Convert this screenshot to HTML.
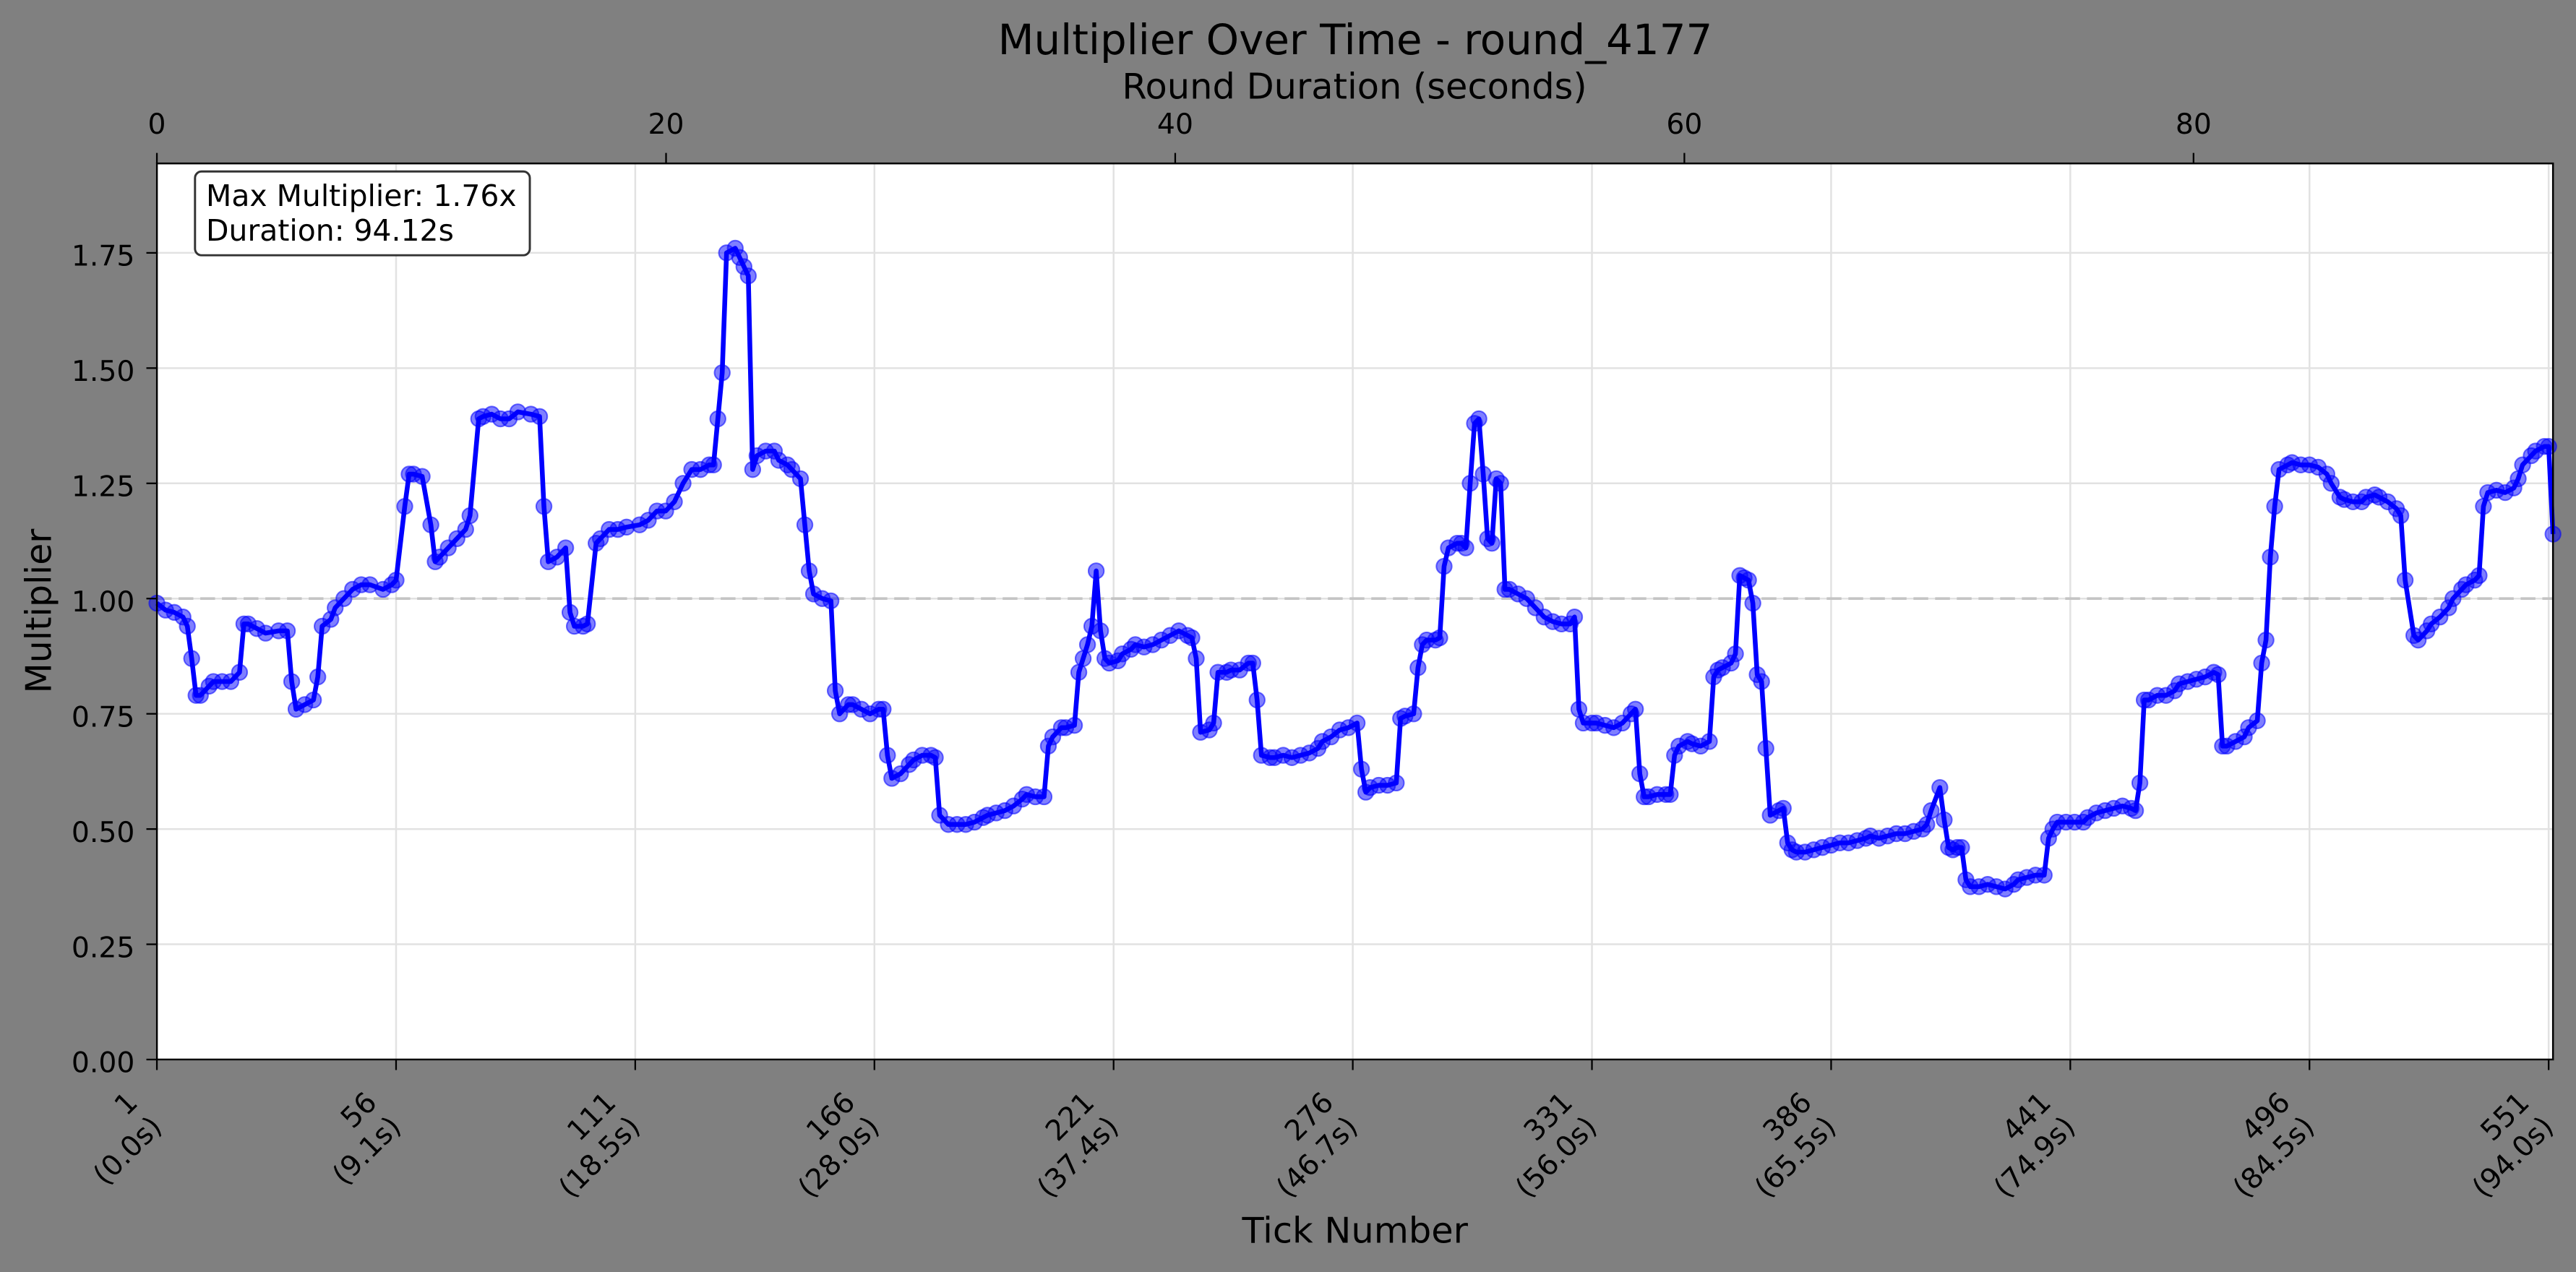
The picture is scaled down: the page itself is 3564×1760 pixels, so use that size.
<!DOCTYPE html>
<html><head><meta charset="utf-8"><title>Multiplier Over Time - round_4177</title>
<style>
html,body{margin:0;padding:0;background:#808080;}
svg{display:block;}
text{font-family:"DejaVu Sans","Liberation Sans",sans-serif;fill:#000;}
</style></head>
<body>
<svg id="chart" width="3564" height="1760" viewBox="0 0 1568 774.35" preserveAspectRatio="none" xmlns="http://www.w3.org/2000/svg">
  <rect x="0" y="0" width="1568" height="774.35" fill="#808080"/>
  <rect x="95.5" y="99.5" width="1458.5" height="545.5" fill="#ffffff"/>
  <g id="grid"></g>
  <g id="refline"></g>
  <g id="markers"></g>
  <g id="series"></g>
  <g id="axes"></g>
  <g>
    <rect x="118.7" y="104.4" width="203.8" height="51" rx="4" ry="4" fill="#ffffff" stroke="#333333" stroke-width="1.3"/>
    <text x="125.4" y="125.4" font-size="18">Max Multiplier: 1.76x</text>
    <text x="125.4" y="146.6" font-size="18">Duration: 94.12s</text>
  </g>
  <text x="824.9" y="33" font-size="25.5" text-anchor="middle" textLength="435" lengthAdjust="spacingAndGlyphs">Multiplier Over Time - round_4177</text>
  <text x="824.5" y="60" font-size="21.5" text-anchor="middle" textLength="283" lengthAdjust="spacingAndGlyphs">Round Duration (seconds)</text>
  <text x="824.8" y="756.5" font-size="21.5" text-anchor="middle" textLength="137.5" lengthAdjust="spacingAndGlyphs">Tick Number</text>
  <text x="0" y="0" font-size="21.5" text-anchor="middle" transform="translate(31,372) rotate(-90)">Multiplier</text>
</svg>
<script>
const ticks = [1,3,5,7,8,9,10,11,13,14,16,18,20,21,22,24,26,29,31,32,33,35,37,38,39,41,42,44,46,48,50,53,55,56,58,59,60,62,64,65,66,68,70,72,73,75,76,78,80,82,84,87,89,90,91,93,95,96,97,99,100,102,103,105,107,109,112,114,116,118,120,122,124,126,128,129,130,131,132,134,135,136,137,138,139,141,143,144,146,147,149,150,151,152,154,156,157,158,160,161,163,165,167,168,169,170,172,174,175,177,179,180,181,183,185,187,189,191,192,194,196,198,200,201,203,205,206,207,209,210,212,213,214,215,216,217,218,219,220,222,223,225,226,228,230,232,234,236,238,239,240,241,243,244,245,247,248,250,252,253,254,255,257,258,260,262,264,266,268,269,271,273,275,277,278,279,280,282,284,286,287,288,290,291,292,293,295,296,297,298,300,301,302,303,304,305,306,307,308,309,310,311,312,314,316,318,320,322,324,326,327,328,329,331,332,334,336,338,340,341,342,343,344,346,348,349,350,351,353,354,356,358,359,360,361,363,364,365,366,367,368,369,370,371,372,374,375,376,377,378,380,382,384,386,388,390,392,394,395,397,399,401,403,405,407,408,409,411,412,413,414,415,416,417,418,420,422,424,426,428,429,431,433,435,436,437,438,440,442,444,445,447,449,451,453,455,456,457,458,459,461,463,465,466,468,470,472,474,475,476,477,479,481,482,484,485,486,487,488,489,491,492,494,496,498,500,501,503,504,506,508,509,511,512,514,516,517,518,520,521,523,524,526,528,529,531,532,534,535,536,537,539,541,543,544,545,547,548,550,551,552];
const multipliers = [.99,.975,.97,.96,.94,.87,.79,.79,.81,.82,.82,.82,.84,.945,.945,.935,.925,.93,.93,.82,.76,.77,.78,.83,.94,.955,.98,1.0,1.02,1.03,1.03,1.02,1.03,1.04,1.2,1.27,1.27,1.265,1.16,1.08,1.09,1.11,1.13,1.15,1.18,1.39,1.395,1.4,1.39,1.39,1.405,1.4,1.395,1.2,1.08,1.09,1.11,.97,.94,.94,.945,1.12,1.13,1.15,1.15,1.155,1.16,1.17,1.19,1.19,1.21,1.25,1.28,1.28,1.29,1.29,1.39,1.49,1.75,1.76,1.74,1.72,1.7,1.28,1.31,1.32,1.32,1.3,1.29,1.28,1.26,1.16,1.06,1.01,1.0,.995,.8,.75,.77,.77,.76,.75,.76,.76,.66,.61,.62,.64,.65,.66,.66,.655,.53,.51,.51,.51,.515,.525,.53,.535,.54,.55,.565,.575,.57,.57,.68,.7,.72,.72,.725,.84,.87,.9,.94,1.06,.93,.87,.86,.865,.88,.89,.9,.895,.9,.91,.92,.93,.92,.915,.87,.71,.715,.73,.84,.84,.845,.845,.86,.86,.78,.66,.655,.655,.66,.655,.66,.665,.675,.69,.7,.715,.72,.73,.63,.58,.59,.595,.595,.6,.74,.745,.75,.85,.9,.91,.91,.915,1.07,1.11,1.12,1.12,1.11,1.25,1.38,1.39,1.27,1.13,1.12,1.26,1.25,1.02,1.02,1.01,1.0,.98,.96,.95,.945,.945,.96,.76,.73,.73,.73,.725,.72,.73,.75,.76,.62,.57,.57,.575,.575,.575,.66,.68,.69,.685,.68,.69,.83,.845,.85,.86,.88,1.05,1.045,1.04,.99,.835,.82,.675,.53,.54,.545,.47,.455,.45,.45,.455,.46,.465,.47,.47,.475,.48,.485,.48,.485,.49,.49,.495,.5,.51,.54,.59,.52,.46,.455,.46,.46,.39,.375,.375,.38,.375,.37,.38,.39,.395,.4,.4,.48,.5,.515,.515,.515,.515,.525,.535,.54,.545,.55,.545,.54,.6,.78,.78,.79,.79,.8,.815,.82,.825,.83,.84,.835,.68,.68,.69,.7,.72,.735,.86,.91,1.09,1.2,1.28,1.29,1.295,1.29,1.29,1.285,1.27,1.25,1.22,1.215,1.21,1.21,1.22,1.225,1.22,1.21,1.195,1.18,1.04,.92,.91,.93,.945,.96,.98,1.0,1.02,1.03,1.04,1.05,1.2,1.23,1.235,1.23,1.24,1.26,1.29,1.31,1.32,1.33,1.33,1.14];
const yTicks = [0,0.25,0.5,0.75,1.0,1.25,1.5,1.75];
const yTickLabels = ["0.00","0.25","0.50","0.75","1.00","1.25","1.50","1.75"];
const xTicks = [1,56,111,166,221,276,331,386,441,496,551];
const xTickTimes = ["(0.0s)","(9.1s)","(18.5s)","(28.0s)","(37.4s)","(46.7s)","(56.0s)","(65.5s)","(74.9s)","(84.5s)","(94.0s)"];
const secTicks = [0,20,40,60,80];
const tickDomain = [1,552];
const secDomain = [0,94.12];
const yDomain = [0,1.944];
const referenceValue = 1.0;

const NS = "http://www.w3.org/2000/svg";
const P = {l:95.5, r:1554, t:99.5, b:645};
function xScale(t){return P.l + (t - tickDomain[0])/(tickDomain[1]-tickDomain[0])*(P.r-P.l);}
function sScale(s){return P.l + (s - secDomain[0])/(secDomain[1]-secDomain[0])*(P.r-P.l);}
function yScale(v){return P.b - (v - yDomain[0])/(yDomain[1]-yDomain[0])*(P.b-P.t);}
function mk(tag, attrs, parent){const e=document.createElementNS(NS,tag);for(const k in attrs)e.setAttribute(k,attrs[k]);parent.appendChild(e);return e;}

const grid=document.getElementById('grid');
yTicks.forEach(v=>{
  const ln=mk('line',{x1:P.l,x2:P.r,y1:yScale(v),y2:yScale(v),stroke:'#e2e2e2','stroke-width':1.1},grid);
  
  
});
xTicks.forEach(t=>{
  const ln=mk('line',{x1:xScale(t),x2:xScale(t),y1:P.t,y2:P.b,stroke:'#e2e2e2','stroke-width':1.1},grid);
  
  
});

const ref=document.getElementById('refline');
const rl=mk('line',{x1:P.l,x2:P.r,y1:yScale(referenceValue),y2:yScale(referenceValue),stroke:'#c4c4c4','stroke-width':1.6,'stroke-dasharray':'9,4.2'},ref);



const mg=document.getElementById('markers');
ticks.forEach((t,i)=>{
  const c=mk('circle',{cx:xScale(t),cy:yScale(multipliers[i]),r:4.7,fill:'rgba(0,0,255,0.5)',stroke:'rgba(0,0,255,0.55)','stroke-width':0.9},mg);
  
  
});
const sg=document.getElementById('series');
const pts=ticks.map((t,i)=>xScale(t).toFixed(2)+','+yScale(multipliers[i]).toFixed(2)).join(' ');
const pl=mk('polyline',{points:pts,fill:'none',stroke:'#0000ff','stroke-width':2.9,'stroke-linejoin':'round'},sg);



const ax=document.getElementById('axes');
const frame=mk('rect',{x:P.l,y:P.t,width:P.r-P.l,height:P.b-P.t,fill:'none',stroke:'#000','stroke-width':1.1},ax);


yTicks.forEach((v,i)=>{
  const y=yScale(v);
  const tk=mk('line',{x1:P.l-6.4,x2:P.l,y1:y,y2:y,stroke:'#000','stroke-width':1},ax);
  
  
  const tx=mk('text',{x:P.l-13.5,y:y+7.8,'font-size':17.3,'text-anchor':'end'},ax);
  tx.textContent=yTickLabels[i];
  
  
});
secTicks.forEach(s=>{
  const x=sScale(s);
  const tk=mk('line',{x1:x,x2:x,y1:P.t-6.4,y2:P.t,stroke:'#000','stroke-width':1},ax);
  
  
  const tx=mk('text',{x:x,y:81.4,'font-size':17.3,'text-anchor':'middle'},ax);
  tx.textContent=String(s);
  
  
});
xTicks.forEach((t,i)=>{
  const x=xScale(t);
  const tk=mk('line',{x1:x,x2:x,y1:P.b,y2:P.b+6.4,stroke:'#000','stroke-width':1},ax);
  
  
  const g=mk('g',{transform:'translate('+(x-20)+',663) rotate(-45)'},ax);
  
  
  const t1=mk('text',{x:0,y:13,'font-size':17.3,'text-anchor':'end'},g);
  t1.textContent=String(t);
  
  
  const t2=mk('text',{x:0,y:33.8,'font-size':17.3,'text-anchor':'end'},g);
  t2.textContent=xTickTimes[i];
  
  
});
</script>
</body></html>
